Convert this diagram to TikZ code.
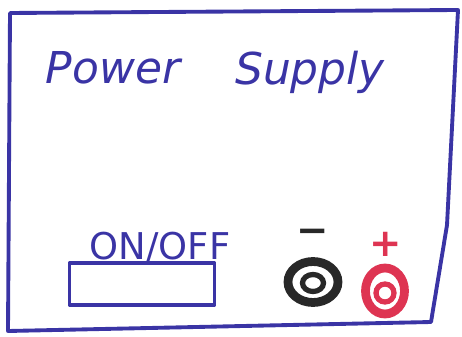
\documentclass[tikz,border=0pt]{standalone}
\usepackage{fontspec}
\setmainfont{DejaVu Sans}
\usetikzlibrary{shapes.geometric}
\definecolor{pen}{RGB}{58,52,165}
\definecolor{redpen}{RGB}{222,52,82}
\definecolor{blackpen}{RGB}{40,40,40}
\tikzset{
  sketch/.style={draw=pen, line width=2.2pt, line join=round, line cap=round},
  title/.style={text=pen, font=\itshape\fontsize{25}{30}\selectfont, inner sep=0pt},
  lbl/.style={text=pen, font=\fontsize{21}{24}\selectfont, inner sep=0pt},
  ring/.style={ellipse, inner sep=0pt},
}
\begin{document}
\begin{tikzpicture}[x=0.02cm, y=-0.02cm]
\useasboundingbox (0,0) rectangle (462,337);
% frame
\coordinate (tl) at (10,13);
\coordinate (tr) at (458,10);
\coordinate (mr) at (447,225);
\coordinate (br) at (431,322);
\coordinate (bl) at (8,331);
\draw[sketch] (tl) -- (tr) -- (mr) -- (br) -- (bl) -- cycle;
% title
\node[title] (power) at (113,68) {Power};
\node[title] (supply) at (310,72) {Supply};
% switch
\node[lbl] (onoff) at (160,248) {ON/OFF};
\node[sketch, minimum width=2.9cm, minimum height=0.84cm, inner sep=0pt] (switch) at (142,284) {};
% negative terminal
\node[text=blackpen, font=\bfseries\fontsize{22}{24}\selectfont, inner sep=0pt] (minus) at (313,236) {−};
\node[ring, draw=blackpen, line width=5pt, minimum width=1.0cm, minimum height=0.82cm] (neg) at (313,282) {};
\node[ring, draw=blackpen, line width=3pt, minimum width=0.42cm, minimum height=0.34cm] (neginner) at (313,283) {};
% positive terminal
\node[text=redpen, font=\bfseries\fontsize{22}{24}\selectfont, inner sep=0pt] (plus) at (386,244) {+};
\node[ring, draw=redpen, line width=5pt, minimum width=0.78cm, minimum height=0.92cm] (pos) at (385,291) {};
\node[ring, draw=redpen, line width=3pt, minimum width=0.36cm, minimum height=0.36cm] (posinner) at (385,293) {};
\end{tikzpicture}
\end{document}
